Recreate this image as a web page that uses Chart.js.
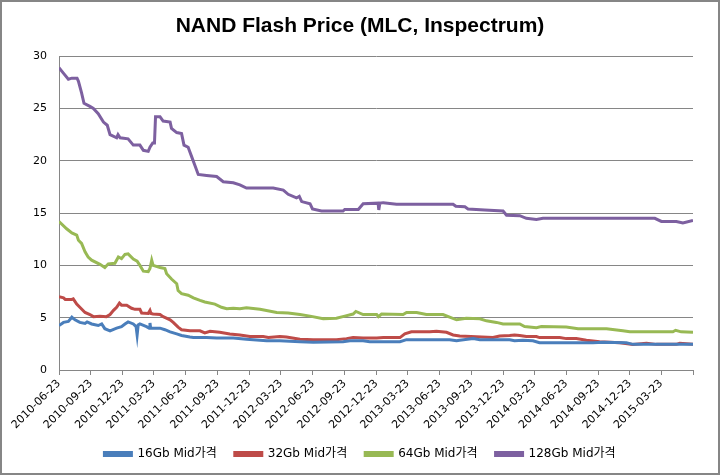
<!DOCTYPE html>
<html>
<head>
<meta charset="utf-8">
<script src="https://cdn.jsdelivr.net/npm/chart.js@4/dist/chart.umd.min.js"></script>
<style>
  html, body { margin: 0; padding: 0; background: #fff; }
  #wrap { width: 721px; height: 475px; }
</style>
</head>
<body>
<div id="wrap"><canvas id="c" width="721" height="475"></canvas></div>
<script>
// Quarterly tick labels (days since 2010-06-23)
const tickDays = [0, 92, 183, 273, 365, 457, 548, 639, 731, 823, 914, 1004, 1096, 1188, 1279, 1369, 1461, 1553, 1644, 1734, 1826];
const tickLabels = ['2010-06-23','2010-09-23','2010-12-23','2011-03-23','2011-06-23','2011-09-23','2011-12-23','2012-03-23','2012-06-23','2012-09-23','2012-12-23','2013-03-23','2013-06-23','2013-09-23','2013-12-23','2014-03-23','2014-06-23','2014-09-23','2014-12-23','2015-03-23',''];

const seriesNames = ['16Gb Mid가격', '32Gb Mid가격', '64Gb Mid가격', '128Gb Mid가격'];

// 16Gb
const s16Days = [0,13,27,37,46,60,75,81,94,113,123,132,147,166,180,190,199,214,222,225,228,233,252,260,262,264,291,305,320,339,353,377,387,425,454,502,540,598,636,694,732,818,838,876,895,982,1001,1125,1145,1154,1193,1212,1298,1312,1336,1365,1384,1538,1567,1634,1653,1826];
const s16Vals = [4.25,4.55,4.65,5.05,4.8,4.55,4.45,4.6,4.4,4.25,4.4,3.95,3.75,4.0,4.15,4.4,4.6,4.4,4.15,3.35,4.3,4.4,4.15,4.0,4.5,4.0,4.0,3.85,3.65,3.45,3.3,3.15,3.1,3.1,3.05,3.05,2.95,2.8,2.8,2.7,2.65,2.7,2.8,2.8,2.7,2.7,2.9,2.9,2.8,2.85,3.0,2.9,2.9,2.8,2.85,2.8,2.6,2.6,2.65,2.6,2.45,2.45];

// 32Gb
const s32Days = [0,13,18,37,41,51,60,75,89,99,118,137,147,157,166,174,180,195,209,219,233,238,257,262,265,271,291,300,320,329,343,353,377,406,420,435,463,492,521,550,588,603,636,655,694,732,799,828,847,876,915,934,982,996,1015,1068,1087,1116,1135,1154,1250,1269,1298,1312,1327,1346,1375,1384,1442,1461,1490,1519,1557,1615,1653,1692,1720,1778,1788,1826];
const s32Vals = [7.0,6.9,6.75,6.75,6.8,6.3,6.0,5.5,5.3,5.1,5.15,5.1,5.3,5.7,6.0,6.4,6.2,6.2,5.9,5.8,5.8,5.45,5.4,5.7,5.4,5.35,5.3,5.1,4.8,4.55,4.1,3.85,3.75,3.75,3.55,3.7,3.6,3.45,3.35,3.2,3.2,3.1,3.2,3.15,2.95,2.9,2.9,3.0,3.1,3.05,3.05,3.1,3.1,3.45,3.65,3.65,3.7,3.6,3.35,3.25,3.1,3.25,3.3,3.35,3.3,3.2,3.2,3.1,3.1,3.0,3.0,2.85,2.7,2.6,2.45,2.55,2.45,2.45,2.55,2.45];

// 64Gb
const s64Days = [0,22,37,51,56,65,75,84,94,118,132,142,161,171,180,190,199,214,225,233,243,257,262,267,271,291,305,310,324,339,343,353,372,387,406,420,449,468,483,502,521,540,579,627,660,694,723,761,799,823,847,855,876,915,920,929,991,1001,1030,1058,1106,1125,1145,1173,1212,1231,1260,1279,1327,1341,1375,1389,1461,1495,1577,1624,1644,1768,1776,1792,1826];
const s64Vals = [14.2,13.5,13.1,12.9,12.4,12.1,11.3,10.8,10.5,10.1,9.8,10.15,10.2,10.8,10.65,11.05,11.1,10.6,10.4,10.0,9.45,9.4,9.7,10.5,10.0,9.8,9.7,9.2,8.7,8.25,7.6,7.3,7.15,6.9,6.65,6.5,6.3,6.0,5.85,5.9,5.85,5.95,5.8,5.5,5.45,5.3,5.15,4.9,4.95,5.15,5.35,5.6,5.3,5.3,5.1,5.35,5.3,5.5,5.5,5.3,5.3,5.05,4.8,4.95,4.9,4.7,4.55,4.4,4.4,4.15,4.05,4.15,4.1,3.95,3.95,3.75,3.65,3.65,3.8,3.65,3.6];

// 128Gb
const s128Days = [0,12,27,37,52,56,65,72,89,99,113,128,139,147,166,170,176,199,214,233,243,257,262,270,275,278,291,300,320,324,339,353,360,372,382,391,401,425,454,473,502,521,540,617,646,660,684,692,699,723,730,756,818,823,862,876,919,921,924,934,972,1135,1143,1169,1178,1226,1279,1289,1327,1346,1375,1394,1716,1735,1778,1797,1826];
const s128Vals = [28.9,28.4,27.8,27.9,27.9,27.6,26.5,25.5,25.2,25.0,24.5,23.7,23.4,22.5,22.2,22.5,22.2,22.1,21.5,21.5,21.0,20.9,21.3,21.7,21.7,24.2,24.2,23.8,23.7,23.1,22.7,22.6,21.5,21.3,20.4,19.6,18.7,18.6,18.5,18.0,17.9,17.7,17.4,17.4,17.2,16.8,16.45,16.6,16.1,15.9,15.4,15.2,15.2,15.35,15.35,15.9,15.95,15.3,15.95,16.0,15.85,15.85,15.65,15.6,15.4,15.3,15.2,14.8,14.75,14.5,14.4,14.5,14.5,14.2,14.2,14.05,14.3];

const colors = ['#4A7EBB', '#BE4B48', '#98B954', '#7D60A0'];
const dayArrays = [s16Days, s32Days, s64Days, s128Days];
const valArrays = [s16Vals, s32Vals, s64Vals, s128Vals];

const datasets = seriesNames.map((name, i) => ({
  label: name,
  data: dayArrays[i].map((d, j) => ({ x: d, y: valArrays[i][j] })),
  borderColor: colors[i],
  backgroundColor: colors[i],
  borderWidth: 3,
  pointRadius: 0,
  tension: 0,
  fill: false
}));

const frame = {
  id: 'frame',
  beforeDraw(chart) {
    const ctx = chart.ctx;
    ctx.save();
    ctx.fillStyle = '#fff';
    ctx.fillRect(0, 0, chart.width, chart.height);
    ctx.restore();
  },
  afterDraw(chart) {
    const ctx = chart.ctx;
    ctx.save();
    ctx.strokeStyle = '#868686';
    ctx.lineWidth = 2;
    ctx.strokeRect(1, 1, chart.width - 3, chart.height - 2);
    ctx.restore();
  }
};

const axisFont = { family: '"DejaVu Sans", "Noto Sans CJK KR"', size: 11 };

new Chart(document.getElementById('c'), {
  type: 'line',
  data: { datasets },
  plugins: [frame],
  options: {
    responsive: false,
    animation: false,
    layout: { padding: { left: 27, right: 28, top: 0, bottom: 5 } },
    plugins: {
      title: {
        display: true,
        text: 'NAND Flash Price (MLC, Inspectrum)',
        color: '#000',
        font: { family: '"Liberation Sans", Arial', size: 21, weight: 'bold' },
        padding: { top: 14, bottom: 17 }
      },
      legend: {
        position: 'bottom',
        labels: {
          boxWidth: 27,
          boxHeight: 3,
          padding: 18,
          color: '#000',
          font: { family: '"DejaVu Sans", "Noto Sans CJK KR"', size: 12 }
        }
      },
      tooltip: { enabled: false }
    },
    scales: {
      x: {
        type: 'linear',
        min: 0,
        max: 1826,
        afterBuildTicks(scale) {
          scale.ticks = tickDays.map(v => ({ value: v }));
        },
        afterFit(scale) { scale.height = 60; },
        ticks: {
          autoSkip: false,
          minRotation: 45,
          maxRotation: 45,
          color: '#000',
          font: axisFont,
          padding: 2,
          callback(value) {
            const k = tickDays.indexOf(value);
            return k >= 0 ? tickLabels[k] : '';
          }
        },
        grid: { drawOnChartArea: false, drawTicks: true, tickLength: 5, color: '#868686' },
        border: { display: true, color: '#868686', width: 1 }
      },
      y: {
        min: 0,
        max: 30,
        afterFit(scale) { scale.width = 32; },
        ticks: { stepSize: 5, color: '#000', font: axisFont, padding: 12 },
        grid: { color: '#868686', drawTicks: false },
        border: { display: true, color: '#868686', width: 1 }
      }
    }
  }
});
</script>
</body>
</html>
